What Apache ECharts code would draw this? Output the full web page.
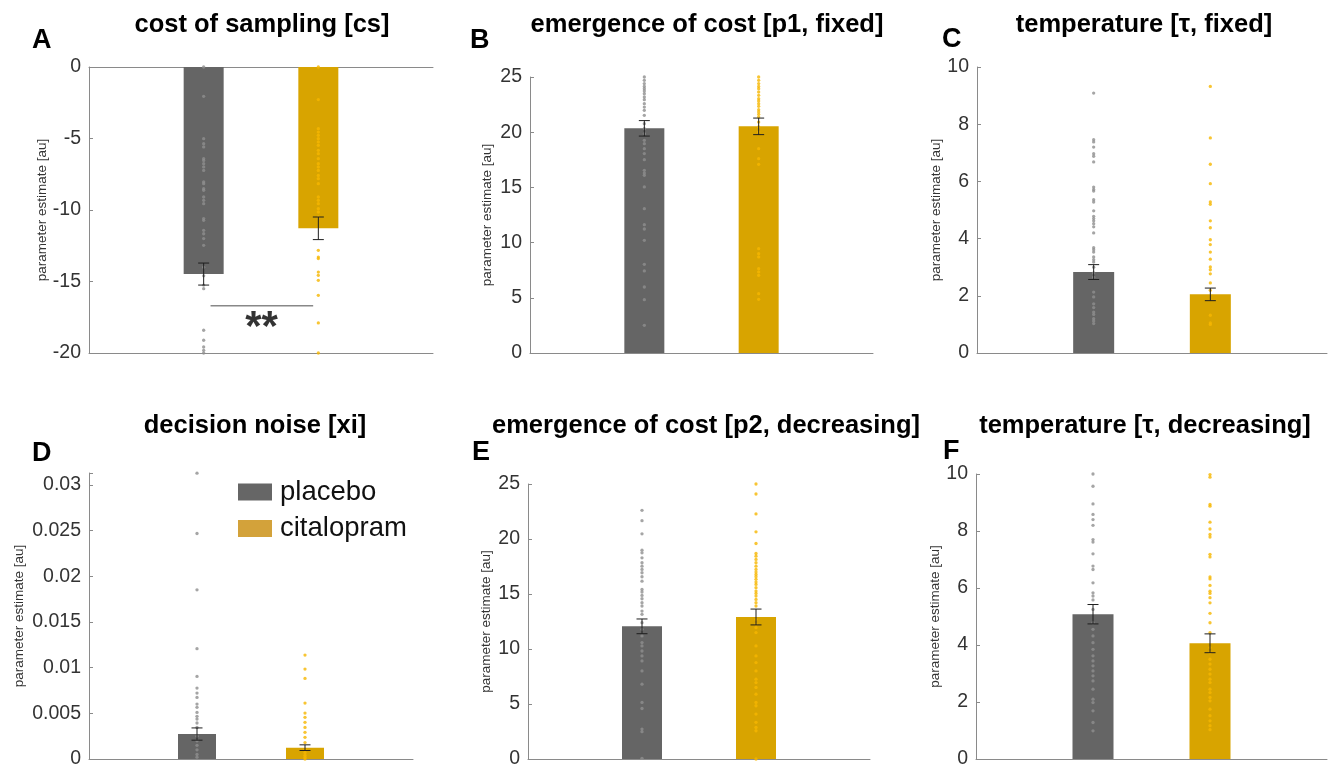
<!DOCTYPE html>
<html>
<head>
<meta charset="utf-8">
<script src="https://cdn.jsdelivr.net/npm/echarts@6/dist/echarts.min.js"></script>
<style>
html,body{margin:0;padding:0;background:#fff;}
#chart{width:1328px;height:769px;}
</style>
</head>
<body>
<div id="chart"></div>
<script>
// ---------------- data ----------------
const groups = ['placebo', 'citalopram'];
const groupX = [1, 2];

// A: cost of sampling
const costMeans = [-14.48, -11.28];
const costSems = [0.77, 0.79];
const costPlacebo = [0, -2.05, -5.01, -5.36, -5.59, -6.41, -6.53, -6.76, -6.99, -7.23, -8.04, -8.16, -8.51, -8.62, -9.09, -9.32, -9.56, -10.6, -10.72, -11.42, -11.66, -12.0, -12.47, -14.0, -14.6, -15.25, -15.5, -18.41, -19.11, -19.58, -19.81, -20];
const costCital = [0, -2.28, -4.31, -4.55, -4.78, -5.01, -5.24, -5.48, -5.83, -6.06, -6.41, -6.76, -6.99, -7.23, -7.58, -7.81, -8.16, -9.09, -9.32, -9.56, -9.91, -10.14, -10.49, -12.82, -13.29, -13.40, -14.34, -14.57, -14.92, -15.97, -17.90, -20];
const costSigValue = -16.7;
const costSigLabel = '**';

// B: emergence of cost [p1, fixed]
const p1Means = [20.35, 20.53];
const p1Sems = [0.70, 0.75];
const p1Placebo = [25, 24.70, 24.40, 24.15, 23.94, 23.73, 23.49, 23.19, 22.95, 22.58, 22.28, 21.98, 21.53, 20.77, 20.32, 19.87, 19.26, 18.96, 18.51, 18.06, 17.51, 16.55, 16.30, 16.09, 15.04, 13.07, 11.62, 11.23, 10.21, 8.03, 7.43, 5.98, 4.83, 2.51];
const p1Cital = [25, 24.70, 24.40, 24.15, 23.94, 23.64, 23.34, 23.04, 22.83, 22.58, 22.34, 22.04, 21.83, 21.62, 21.38, 20.92, 20.47, 20.02, 18.51, 17.60, 17.09, 9.45, 9.00, 8.70, 7.64, 7.34, 7.04, 5.37, 4.86];

// C: temperature [tau, fixed]
const tauFixMeans = [2.83, 2.05];
const tauFixSems = [0.26, 0.22];
const tauFixPlacebo = [9.09, 7.46, 7.38, 7.20, 6.97, 6.88, 6.68, 5.80, 5.72, 5.66, 5.36, 5.28, 4.97, 4.78, 4.70, 4.62, 4.52, 4.41, 4.20, 3.68, 3.61, 3.53, 3.36, 3.26, 3.18, 3.0, 2.8, 2.65, 2.13, 1.96, 1.72, 1.59, 1.43, 1.35, 1.20, 1.12, 1.03];
const tauFixCital = [9.32, 7.52, 6.60, 5.92, 5.28, 5.20, 4.62, 4.38, 3.96, 3.79, 3.53, 3.28, 3.01, 2.91, 2.77, 2.45, 2.19, 1.32, 1.05, 1.00];

// D: decision noise [xi]
const xiMeans = [0.00273, 0.00124];
const xiSems = [0.00067, 0.00031];
const xiPlacebo = [0.03128, 0.02468, 0.01852, 0.01207, 0.00904, 0.00776, 0.00722, 0.00674, 0.00601, 0.00565, 0.00510, 0.00467, 0.00437, 0.00394, 0.00346, 0.0025, 0.0020, 0.0015, 0.0010, 0.0005, 0.0002];
const xiCital = [0.01137, 0.00984, 0.00882, 0.00612, 0.00503, 0.00456, 0.00401, 0.00346, 0.00292, 0.00237, 0.0018, 0.0010, 0.0007, 0.0004, 0.0002, 0];

// E: emergence of cost [p2, decreasing]
const p2Means = [12.06, 12.91];
const p2Sems = [0.67, 0.72];
const p2Placebo = [22.61, 21.67, 20.47, 18.98, 18.74, 18.29, 17.84, 17.53, 17.23, 16.93, 16.57, 16.17, 15.42, 15.18, 14.87, 14.57, 14.21, 13.91, 13.45, 13.15, 12.39, 11.79, 11.19, 10.58, 10.28, 9.82, 9.37, 8.92, 8.01, 6.80, 5.14, 4.59, 2.72, 2.48, 0.06];
const p2Cital = [25, 24.09, 22.28, 20.65, 19.59, 18.68, 18.44, 18.14, 17.84, 17.53, 17.23, 16.99, 16.78, 16.57, 16.33, 16.08, 15.87, 15.57, 15.27, 15.05, 14.81, 14.51, 14.21, 13.91, 12.70, 12.24, 11.94, 11.49, 10.28, 9.37, 8.77, 8.01, 7.26, 6.95, 6.50, 5.89, 5.14, 4.84, 4.08, 3.33, 2.87, 2.57, 0];

// F: temperature [tau, decreasing]
const tauDecMeans = [5.08, 4.06];
const tauDecSems = [0.34, 0.33];
const tauDecPlacebo = [10, 9.57, 8.95, 8.58, 8.40, 8.20, 7.70, 7.61, 7.20, 6.77, 6.65, 6.18, 5.83, 5.72, 5.58, 5.25, 4.78, 4.55, 4.32, 4.08, 3.85, 3.62, 3.44, 3.27, 3.09, 2.92, 2.74, 2.45, 2.10, 1.98, 1.69, 1.28, 0.99];
const tauDecCital = [9.98, 9.89, 8.93, 8.87, 8.31, 8.07, 7.88, 7.79, 7.18, 7.09, 6.39, 6.32, 6.09, 5.89, 5.81, 5.66, 5.48, 5.11, 4.78, 4.43, 3.91, 3.73, 3.50, 3.33, 3.15, 2.98, 2.80, 2.68, 2.45, 2.33, 2.16, 2.04, 1.75, 1.52, 1.34, 1.17, 1.03];

// ---------------- layout / style ----------------
const FONT = 'Liberation Sans, Arial, Helvetica, sans-serif';
const barColors = ['#656565', '#d8a400'];
const dotColors = ['#8e8e8e', '#f6b700'];
const legendColors = ['#666666', '#d3a23a'];
const axisColor = '#8a8a8a';
const yName = 'parameter estimate [au]';

const panels = [
  {letter:'A', title:'cost of sampling [cs]', means:costMeans, sems:costSems, dots:[costPlacebo, costCital],
   yMin:-20, yMax:0, step:5, grid:{left:89, top:67, width:344, height:286}, barW:40, nameGap:37,
   titleX:262, titleTop:12, letterX:32, letterTop:27, boxBottom:true},
  {letter:'B', title:'emergence of cost [p1, fixed]', means:p1Means, sems:p1Sems, dots:[p1Placebo, p1Cital],
   yMin:0, yMax:25, step:5, grid:{left:530, top:77, width:343, height:276}, barW:40, nameGap:36,
   titleX:707, titleTop:12, letterX:470, letterTop:27},
  {letter:'C', title:'temperature [\u03c4, fixed]', means:tauFixMeans, sems:tauFixSems, dots:[tauFixPlacebo, tauFixCital],
   yMin:0, yMax:10, step:2, grid:{left:977, top:67, width:350, height:286}, barW:41, nameGap:22,
   titleX:1144, titleTop:12, letterX:942, letterTop:26},
  {letter:'D', title:'decision noise [xi]', means:xiMeans, sems:xiSems, dots:[xiPlacebo, xiCital],
   yMin:0, yMax:0.0313, step:0.005, grid:{left:89, top:473, width:324, height:287}, barW:38, nameGap:63,
   titleX:255, titleTop:413, letterX:32, letterTop:440},
  {letter:'E', title:'emergence of cost [p2, decreasing]', means:p2Means, sems:p2Sems, dots:[p2Placebo, p2Cital],
   yMin:0, yMax:25, step:5, grid:{left:528, top:484, width:342, height:276}, barW:40, nameGap:35,
   titleX:706, titleTop:413, letterX:472, letterTop:439},
  {letter:'F', title:'temperature [\u03c4, decreasing]', means:tauDecMeans, sems:tauDecSems, dots:[tauDecPlacebo, tauDecCital],
   yMin:0, yMax:10, step:2, grid:{left:976, top:474, width:351, height:286}, barW:41, nameGap:26,
   titleX:1145, titleTop:413, letterX:943, letterTop:438}
];

// ---------------- build option ----------------
const grids = [], xAxes = [], yAxes = [], series = [], titles = [];

function renderErr(params, api) {
  const x = api.value(0);
  const pLo = api.coord([x, api.value(1)]);
  const pHi = api.coord([x, api.value(2)]);
  const cap = 5.5;
  const st = {stroke:'#1e1e1e', lineWidth:1};
  return {type:'group', children:[
    {type:'line', shape:{x1:pLo[0], y1:pLo[1], x2:pHi[0], y2:pHi[1]}, style:st},
    {type:'line', shape:{x1:pLo[0]-cap, y1:pLo[1], x2:pLo[0]+cap, y2:pLo[1]}, style:st},
    {type:'line', shape:{x1:pHi[0]-cap, y1:pHi[1], x2:pHi[0]+cap, y2:pHi[1]}, style:st}
  ]};
}

panels.forEach((p, i) => {
  grids.push(Object.assign({containLabel:false}, p.grid));
  const xi = xAxes.length;
  xAxes.push({type:'value', gridIndex:i, min:0, max:3, position: p.boxBottom ? 'top' : 'bottom',
    axisLine:{show:true, onZero:false, lineStyle:{color:axisColor, width:1}},
    axisTick:{show:false}, axisLabel:{show:false}, splitLine:{show:false}});
  if (p.boxBottom) {
    xAxes.push({type:'value', gridIndex:i, min:0, max:3, position:'bottom',
      axisLine:{show:true, onZero:false, lineStyle:{color:axisColor, width:1}},
      axisTick:{show:false}, axisLabel:{show:false}, splitLine:{show:false}});
  }
  const step = p.step;
  yAxes.push({type:'value', gridIndex:i, min:p.yMin, max:p.yMax, interval:step,
    name:yName, nameLocation:'middle', nameGap:p.nameGap, nameRotate:90,
    nameTextStyle:{fontFamily:FONT, fontSize:13.5, color:'#333'},
    axisLine:{show:true, lineStyle:{color:axisColor, width:1}},
    axisTick:{show:true, inside:true, length:4, lineStyle:{color:axisColor}},
    axisLabel:{fontFamily:FONT, fontSize:19.5, color:'#333', margin:8,
      formatter: v => { const k = v / step; return Math.abs(k - Math.round(k)) < 1e-6 ? String(+v.toFixed(4)) : ''; }},
    splitLine:{show:false}});

  groups.forEach((g, gi) => {
    series.push({type:'bar', name:g, xAxisIndex:xi, yAxisIndex:i, barWidth:p.barW, barGap:'-100%',
      itemStyle:{color:barColors[gi]}, data:[[groupX[gi], p.means[gi]]], z:2, silent:true});
  });
  groups.forEach((g, gi) => {
    series.push({type:'scatter', name:g + ' participants', xAxisIndex:xi, yAxisIndex:i,
      symbol:'circle', symbolSize:3.3, itemStyle:{color:dotColors[gi]},
      data:p.dots[gi].map(v => [groupX[gi], v]), z:3, silent:true});
  });
  series.push({type:'custom', name:'sem', xAxisIndex:xi, yAxisIndex:i, renderItem:renderErr,
    data:groups.map((g, gi) => [groupX[gi], p.means[gi] - p.sems[gi], p.means[gi] + p.sems[gi]]),
    encode:{x:0, y:[1, 2]}, z:5, silent:true});

  if (p.letter === 'A') {
    series.push({type:'line', name:'significance', xAxisIndex:xi, yAxisIndex:i, symbol:'none',
      lineStyle:{color:'#888', width:1.5}, data:[[1.06, costSigValue], [1.955, costSigValue]], z:4, silent:true});
    series.push({type:'scatter', name:'significance label', xAxisIndex:xi, yAxisIndex:i, symbolSize:0,
      label:{show:true, position:'inside', formatter:costSigLabel, fontFamily:FONT, fontWeight:'bold', fontSize:42, color:'#000', offset:[0, 23]},
      data:[[1.505, costSigValue]], z:4, silent:true});
  }

  titles.push({text:p.title, left:p.titleX, top:p.titleTop, textAlign:'center', padding:0,
    textStyle:{fontFamily:FONT, fontWeight:'bold', fontSize:25.5, color:'#000'}});
  titles.push({text:p.letter, left:p.letterX, top:p.letterTop, padding:0,
    textStyle:{fontFamily:FONT, fontWeight:'bold', fontSize:27, color:'#000'}});
});

const option = {
  backgroundColor:'#fff',
  animation:false,
  title:titles,
  grid:grids,
  xAxis:xAxes,
  yAxis:yAxes,
  legend:{orient:'vertical', left:238, top:478, padding:0, itemWidth:34, itemHeight:17, itemGap:8.5,
    textStyle:{fontFamily:FONT, fontSize:27.5, color:'#111', padding:[0, 0, 0, 3]},
    selectedMode:false,
    data:groups.map((g, gi) => ({name:g, icon:'rect', itemStyle:{color:legendColors[gi]}}))},
  series:series
};

const chart = echarts.init(document.getElementById('chart'), null, {renderer:'canvas'});
chart.setOption(option);
</script>
</body>
</html>
